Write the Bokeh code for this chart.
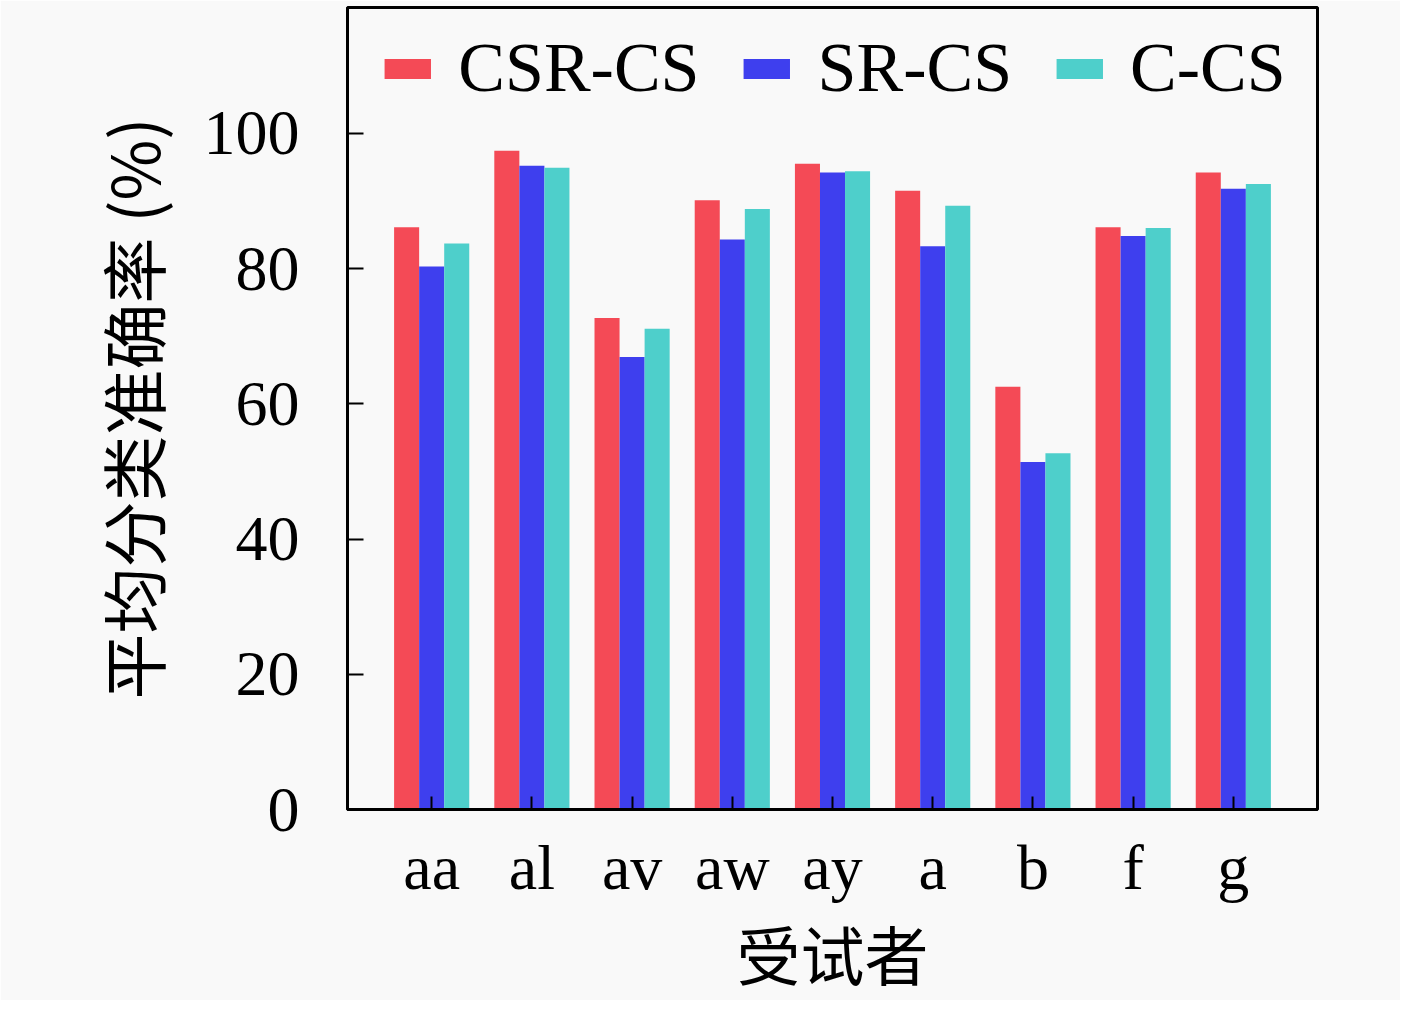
from bokeh.plotting import figure
from bokeh.models import ColumnDataSource, FactorRange, Range1d, FixedTicker
from bokeh.transform import dodge
from bokeh.embed import file_html
from bokeh.resources import INLINE

subjects = ["aa", "al", "av", "aw", "ay", "a", "b", "f", "g"]
csr_cs = [86.1, 97.4, 72.7, 90.1, 95.5, 91.5, 62.5, 86.1, 94.2]
sr_cs = [80.3, 95.2, 66.9, 84.3, 94.2, 83.3, 51.4, 84.8, 91.8]
c_cs = [83.7, 94.9, 71.1, 88.8, 94.4, 89.3, 52.7, 86.0, 92.5]
y_ticks = [0, 20, 40, 60, 80, 100]
x_title = "受试者"
y_title = "平均分类准确率 (%)"

BG = "#f9f9f9"
LATIN = "'Liberation Serif', 'Noto Sans CJK SC', serif"
CJK = "'Noto Sans CJK SC', sans-serif"

FRAME_W = 970

src = ColumnDataSource(dict(subject=subjects, csr=csr_cs, sr=sr_cs, c=c_cs))

p = figure(
    width=1400, height=1000,
    x_range=FactorRange(factors=subjects, range_padding=0.34, range_padding_units="absolute"),
    y_range=Range1d(0, 118.6),
    output_backend="svg", toolbar_location=None,
    min_border_left=347, min_border_right=1400 - 347 - FRAME_W, min_border_top=7, min_border_bottom=191,
    background_fill_color=BG, border_fill_color=BG,
)

p.vbar(x=dodge("subject", -0.25, range=p.x_range), top="csr", width=0.25, source=src,
       fill_color="#f44a56", line_color=None, legend_label="CSR-CS")
p.vbar(x=dodge("subject", 0.0, range=p.x_range), top="sr", width=0.25, source=src,
       fill_color="#3e3fee", line_color=None, legend_label="SR-CS")
p.vbar(x=dodge("subject", 0.25, range=p.x_range), top="c", width=0.25, source=src,
       fill_color="#4ecfcb", line_color=None, legend_label="C-CS")

p.xgrid.grid_line_color = None
p.ygrid.grid_line_color = None
p.outline_line_color = "black"
p.outline_line_width = 3
p.outline_line_alpha = 1

for ax in (p.xaxis, p.yaxis):
    ax.axis_line_width = 3
    ax.axis_line_color = "black"
    ax.major_tick_line_width = 2
    ax.major_tick_out = 0
    ax.minor_tick_line_color = None
    ax.major_label_text_font = LATIN
    ax.major_label_text_font_size = "64px"
    ax.major_label_text_color = "black"
    ax.axis_label_text_font = CJK
    ax.axis_label_text_font_style = "normal"
    ax.axis_label_text_color = "black"

p.yaxis.ticker = FixedTicker(ticks=y_ticks)
p.yaxis.major_tick_in = 16
p.yaxis.major_label_standoff = 48
p.yaxis.axis_label = y_title
p.yaxis.axis_label_text_font_size = "66px"
p.yaxis.axis_label_standoff = 22

p.xaxis.major_tick_in = 13
p.xaxis.major_label_standoff = 22
p.xaxis.axis_label = x_title
p.xaxis.axis_label_text_font_size = "64px"
p.xaxis.axis_label_standoff = 0

lg = p.legend[0]
lg.location = "top_center"
lg.orientation = "horizontal"
lg.label_text_font = LATIN
lg.label_text_font_size = "70px"
lg.label_text_color = "black"
lg.glyph_width = 58
lg.glyph_height = 25
lg.label_standoff = 22
lg.spacing = 38
lg.padding = 21
lg.margin = 0
lg.background_fill_alpha = 0
lg.border_line_alpha = 0

open("out.html", "w").write(file_html(p, INLINE))
